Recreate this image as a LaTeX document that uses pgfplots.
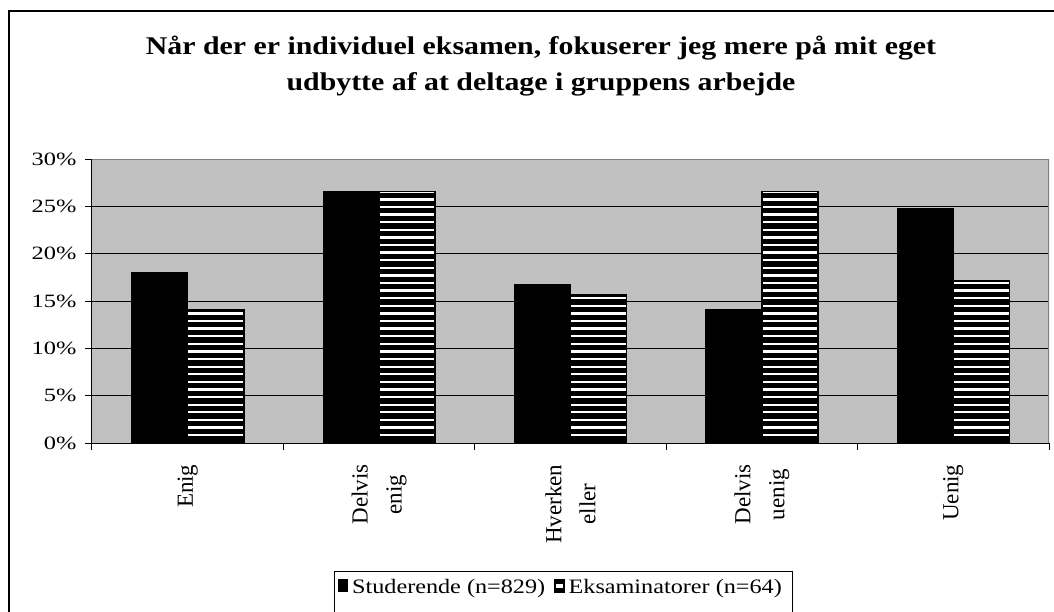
\documentclass[border=0pt]{standalone}
\usepackage{fontspec}
\setmainfont{Liberation Serif}
\newfontfamily\wide{Liberation Serif}[FakeStretch=1.3]
\newfontfamily\legfont{Liberation Serif}[FakeStretch=1.18]
\newfontfamily\titlefont{Liberation Serif}[FakeStretch=1.17]
\usepackage{pgfplots}
\pgfplotsset{compat=1.18}
\usetikzlibrary{patterns}
\definecolor{chartgray}{HTML}{C0C0C0}
\definecolor{bordergray}{HTML}{808080}
\pgfdeclarepatternformonly{wstripes}{\pgfpoint{-1pt}{0pt}}{\pgfpoint{5pt}{7.6pt}}{\pgfpoint{4pt}{7.6pt}}{%
  \pgfpathrectangle{\pgfpoint{-1pt}{0pt}}{\pgfpoint{6pt}{2.3pt}}\pgfusepath{fill}}
\begin{document}
\begin{tikzpicture}[x=1pt,y=1pt]
\useasboundingbox (0,0) rectangle (1054,611);
\clip (0,0) rectangle (1054,611);
\fill[white] (0,0) rectangle (1054,611);
\draw[black, line width=1.3pt] (9,-20) -- (9,600) -- (1080,600);
\node[anchor=base, font=\titlefont\bfseries\fontsize{25.5}{30}\selectfont] at (541,556.7) {Når der er individuel eksamen, fokuserer jeg mere på mit eget};
\node[anchor=base, font=\titlefont\bfseries\fontsize{25.5}{30}\selectfont] at (541,520) {udbytte af at deltage i gruppens arbejde};
\begin{axis}[
  at={(92pt,168pt)}, anchor=south west,
  scale only axis, width=957pt, height=284pt,
  xmin=-0.5, xmax=4.5, ymin=0, ymax=30,
  axis background/.style={fill=chartgray},
  axis x line*=bottom, axis y line*=left,
  axis line style={black, line width=1pt, -},
  tick align=outside, major tick length=7pt,
  tick style={black, line width=1pt},
  xtick={-0.5,0.5,1.5,2.5,3.5,4.5},
  x tick label as interval,
  xticklabels={Enig,{Delvis\\[6pt]enig},{Hverken\\[6pt]eller},{Delvis\\[6pt]uenig},Uenig},
  xticklabel style={rotate=90, anchor=east, align=center, font=\fontsize{23}{28}\selectfont},
  xticklabel shift=11pt,
  ytick={0,5,10,15,20,25,30},
  yticklabels={0\%,5\%,10\%,15\%,20\%,25\%,30\%},
  yticklabel style={font=\wide\fontsize{18.8}{22}\selectfont, xshift=-5pt},
  ymajorgrids, grid style={black, line width=0.9pt},
  ybar=0pt, bar width=0.293,
  legend columns=2,
  legend style={at={(axis description cs:0.257,-0.507)}, anchor=west, draw=none, fill=none,
    inner xsep=0pt, inner ysep=0pt,
    font=\legfont\fontsize{20.5}{24}\selectfont,
    nodes={inner xsep=4pt},
    /tikz/every even column/.append style={column sep=5pt}},
  legend cell align=left,
]
\addplot[fill=black, draw=black, line width=1pt, legend image code/.code={\draw[fill=black, draw=black] (0pt,-5pt) rectangle (9pt,7pt);}] coordinates {(0,18.0) (1,26.6) (2,16.7) (3,14.1) (4,24.8)};
\addplot[draw=black, line width=1.5pt, preaction={fill=black}, pattern=wstripes, pattern color=white, legend image code/.code={\draw[fill=black, draw=black] (0pt,-5pt) rectangle (9pt,7pt); \fill[white] (1.5pt,0pt) rectangle (7.5pt,2pt);}] coordinates {(0,14.06) (1,26.56) (2,15.63) (3,26.56) (4,17.19)};
\legend{Studerende (n=829), Eksaminatorer (n=64)}
\draw[bordergray, line width=1.5pt] (rel axis cs:0,1) -- (rel axis cs:1,1) -- (rel axis cs:1,0);
\end{axis}
\draw[black, line width=1pt] (334,39.3) rectangle (792,-10);
\end{tikzpicture}
\end{document}
